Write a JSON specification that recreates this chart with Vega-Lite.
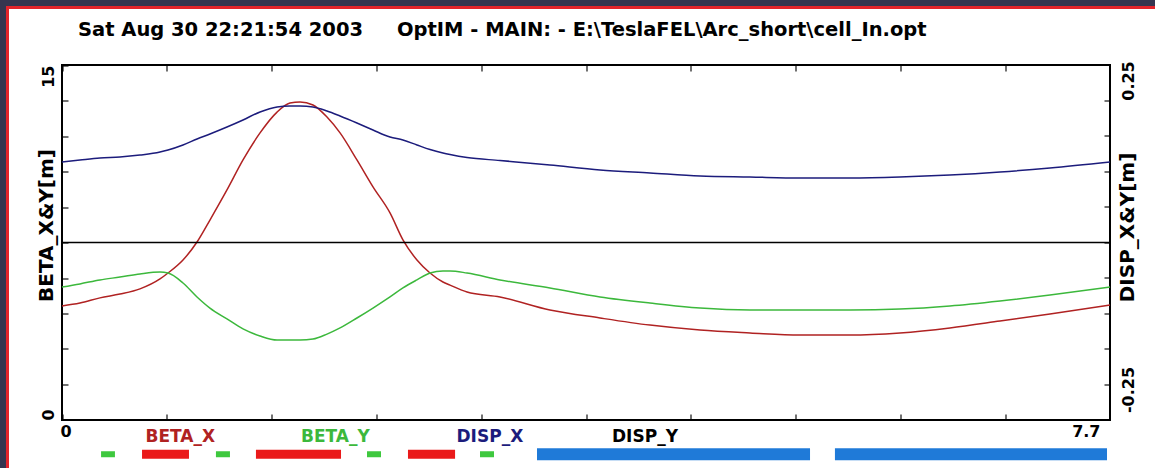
{
  "$schema": "https://vega.github.io/schema/vega-lite/v6.json",
  "width": 1147.5,
  "height": 460.5,
  "autosize": {"type": "none"},
  "padding": {"left": 7.5, "top": 7.5, "right": 0, "bottom": 0},
  "background": "#35354f",
  "title": {
    "text": "Sat Aug 30 22:21:54 2003\u00a0\u00a0\u00a0\u00a0 OptIM - MAIN: - E:\\TeslaFEL\\Arc_short\\cell_In.opt",
    "anchor": "start", "frame": "group", "dx": 70.5, "offset": -47.5,
    "baseline": "alphabetic", "font": "DejaVu Sans", "fontSize": 19.5, "fontWeight": "bold", "color": "black"
  },
  "config": {
    "font": "DejaVu Sans",
    "view": {"fill": "white", "stroke": "#e3242b", "strokeWidth": 3, "strokeDash": [1147.5, 1608, 462, 0]},
    "axis": {
      "domain": false, "grid": false, "tickColor": "#111111", "tickWidth": 1.2, "tickSize": -6,
      "labelFont": "DejaVu Sans", "labelFontSize": 16, "labelFontWeight": "bold", "labelColor": "black",
      "labelOverlap": false, "titleFont": "DejaVu Sans", "titleFontSize": 20, "titleFontWeight": "bold",
      "titleColor": "black", "zindex": 1
    }
  },
  "data": {"values": [
    {"s": 0, "BETA_X": 4.82, "BETA_Y": 5.62, "DISP_X": 0.1417, "DISP_Y": 0},
    {"s": 0.132, "BETA_X": 4.94, "BETA_Y": 5.75, "DISP_X": 0.1452, "DISP_Y": 0},
    {"s": 0.279, "BETA_X": 5.16, "BETA_Y": 5.92, "DISP_X": 0.1488, "DISP_Y": 0},
    {"s": 0.426, "BETA_X": 5.32, "BETA_Y": 6.04, "DISP_X": 0.1505, "DISP_Y": 0},
    {"s": 0.573, "BETA_X": 5.54, "BETA_Y": 6.17, "DISP_X": 0.154, "DISP_Y": 0},
    {"s": 0.72, "BETA_X": 5.96, "BETA_Y": 6.25, "DISP_X": 0.1593, "DISP_Y": 0},
    {"s": 0.779, "BETA_X": 6.21, "BETA_Y": 6.21, "DISP_X": 0.1629, "DISP_Y": 0},
    {"s": 0.889, "BETA_X": 6.76, "BETA_Y": 5.79, "DISP_X": 0.1717, "DISP_Y": 0},
    {"s": 0.992, "BETA_X": 7.52, "BETA_Y": 5.2, "DISP_X": 0.1822, "DISP_Y": 0},
    {"s": 1.087, "BETA_X": 8.45, "BETA_Y": 4.73, "DISP_X": 0.191, "DISP_Y": 0},
    {"s": 1.212, "BETA_X": 9.72, "BETA_Y": 4.27, "DISP_X": 0.2033, "DISP_Y": 0},
    {"s": 1.33, "BETA_X": 10.99, "BETA_Y": 3.85, "DISP_X": 0.2157, "DISP_Y": 0},
    {"s": 1.455, "BETA_X": 12.13, "BETA_Y": 3.55, "DISP_X": 0.2298, "DISP_Y": 0},
    {"s": 1.58, "BETA_X": 13.01, "BETA_Y": 3.38, "DISP_X": 0.2386, "DISP_Y": 0},
    {"s": 1.675, "BETA_X": 13.39, "BETA_Y": 3.38, "DISP_X": 0.2403, "DISP_Y": 0},
    {"s": 1.749, "BETA_X": 13.44, "BETA_Y": 3.38, "DISP_X": 0.2403, "DISP_Y": 0},
    {"s": 1.844, "BETA_X": 13.31, "BETA_Y": 3.42, "DISP_X": 0.2386, "DISP_Y": 0},
    {"s": 1.947, "BETA_X": 12.8, "BETA_Y": 3.63, "DISP_X": 0.2315, "DISP_Y": 0},
    {"s": 2.043, "BETA_X": 12.13, "BETA_Y": 3.89, "DISP_X": 0.2227, "DISP_Y": 0},
    {"s": 2.167, "BETA_X": 10.99, "BETA_Y": 4.31, "DISP_X": 0.2104, "DISP_Y": 0},
    {"s": 2.285, "BETA_X": 9.85, "BETA_Y": 4.73, "DISP_X": 0.1981, "DISP_Y": 0},
    {"s": 2.41, "BETA_X": 8.75, "BETA_Y": 5.2, "DISP_X": 0.1857, "DISP_Y": 0},
    {"s": 2.505, "BETA_X": 7.61, "BETA_Y": 5.58, "DISP_X": 0.1805, "DISP_Y": 0},
    {"s": 2.608, "BETA_X": 6.76, "BETA_Y": 5.92, "DISP_X": 0.1717, "DISP_Y": 0},
    {"s": 2.704, "BETA_X": 6.21, "BETA_Y": 6.21, "DISP_X": 0.1637, "DISP_Y": 0},
    {"s": 2.799, "BETA_X": 5.83, "BETA_Y": 6.3, "DISP_X": 0.1576, "DISP_Y": 0},
    {"s": 2.851, "BETA_X": 5.7, "BETA_Y": 6.3, "DISP_X": 0.1549, "DISP_Y": 0},
    {"s": 2.976, "BETA_X": 5.41, "BETA_Y": 6.21, "DISP_X": 0.1496, "DISP_Y": 0},
    {"s": 3.218, "BETA_X": 5.2, "BETA_Y": 5.92, "DISP_X": 0.1444, "DISP_Y": 0},
    {"s": 3.585, "BETA_X": 4.65, "BETA_Y": 5.58, "DISP_X": 0.1364, "DISP_Y": 0},
    {"s": 3.953, "BETA_X": 4.31, "BETA_Y": 5.2, "DISP_X": 0.1276, "DISP_Y": 0},
    {"s": 4.32, "BETA_X": 4.01, "BETA_Y": 4.94, "DISP_X": 0.1224, "DISP_Y": 0},
    {"s": 4.688, "BETA_X": 3.8, "BETA_Y": 4.73, "DISP_X": 0.1171, "DISP_Y": 0},
    {"s": 5.055, "BETA_X": 3.68, "BETA_Y": 4.65, "DISP_X": 0.1153, "DISP_Y": 0},
    {"s": 5.422, "BETA_X": 3.59, "BETA_Y": 4.65, "DISP_X": 0.1136, "DISP_Y": 0},
    {"s": 5.79, "BETA_X": 3.59, "BETA_Y": 4.65, "DISP_X": 0.1136, "DISP_Y": 0},
    {"s": 6.157, "BETA_X": 3.68, "BETA_Y": 4.69, "DISP_X": 0.1153, "DISP_Y": 0},
    {"s": 6.524, "BETA_X": 3.89, "BETA_Y": 4.82, "DISP_X": 0.1188, "DISP_Y": 0},
    {"s": 6.892, "BETA_X": 4.18, "BETA_Y": 5.03, "DISP_X": 0.1241, "DISP_Y": 0},
    {"s": 7.259, "BETA_X": 4.48, "BETA_Y": 5.28, "DISP_X": 0.1312, "DISP_Y": 0},
    {"s": 7.7, "BETA_X": 4.86, "BETA_Y": 5.62, "DISP_X": 0.1417, "DISP_Y": 0}
  ]},
  "resolve": {"scale": {"y": "independent"}, "axis": {"x": "independent", "y": "independent"}},
  "layer": [
    {
      "data": {"values": [{}]},
      "mark": {"type": "rect", "filled": false, "color": "black", "strokeWidth": 2},
      "encoding": {
        "x": {"datum": 0, "type": "quantitative", "scale": {"domain": [-0.40043, 8.03063], "nice": false, "zero": false},
              "axis": {"orient": "top", "offset": -57.5, "values": [0, 0.77, 1.54, 2.31, 3.08, 3.85, 4.62, 5.39, 6.16, 6.93, 7.7], "labels": false, "title": null}},
        "x2": {"datum": 7.7},
        "y": {"datum": 0, "type": "quantitative", "scale": {"domain": [-2.02817, 17.42958], "nice": false, "zero": false}, "axis": null},
        "y2": {"datum": 15}
      }
    },
    {
      "transform": [{"fold": ["BETA_X", "BETA_Y"], "as": ["series", "v"]}],
      "mark": {"type": "line", "strokeWidth": 1.5, "interpolate": "monotone"},
      "encoding": {
        "x": {"field": "s", "type": "quantitative", "scale": {"domain": [-0.40043, 8.03063], "nice": false, "zero": false},
              "axis": {"orient": "bottom", "offset": -48, "values": [0, 0.77, 1.54, 2.31, 3.08, 3.85, 4.62, 5.39, 6.16, 6.93, 7.7],
                       "labelExpr": "datum.value == 0 ? '0' : (datum.value > 7.6 ? '7.7' : '')",
                       "labelAlign": {"condition": {"test": "datum.value == 0", "value": "left"}, "value": "right"},
                       "labelOffset": {"condition": {"test": "datum.value == 0", "value": -2}, "value": -10},
                       "labelBaseline": "alphabetic", "labelPadding": 22, "title": null}},
        "y": {"field": "v", "type": "quantitative", "scale": {"domain": [-2.02817, 17.42958], "nice": false, "zero": false},
              "axis": {"orient": "left", "offset": -54.5, "values": [0, 1.5, 3, 4.5, 6, 7.5, 9, 10.5, 12, 13.5, 15],
                       "labelExpr": "datum.value == 0 || datum.value == 15 ? datum.label : ''",
                       "labelAngle": 270,
                       "labelAlign": {"condition": {"test": "datum.value == 0", "value": "left"}, "value": "right"},
                       "labelBaseline": "alphabetic", "labelPadding": 15,
                       "title": "BETA_X&Y[m]", "titleAngle": 270, "titleX": -15.5, "titleY": 217.5,
                       "titleAlign": "center", "titleBaseline": "middle"}},
        "color": {"field": "series", "type": "nominal",
                  "scale": {"domain": ["BETA_X", "BETA_Y", "DISP_X", "DISP_Y"], "range": ["#b02222", "#3cb83c", "#1c1c7c", "#000000"]},
                  "legend": {"orient": "none", "legendX": 121, "legendY": 421, "direction": "horizontal", "columns": 4,
                             "columnPadding": 68.5, "gridAlign": "all", "labelOffset": 0, "symbolSize": 0, "symbolStrokeWidth": 0,
                             "symbolOpacity": 0, "padding": 0, "title": null, "labelFont": "DejaVu Sans", "labelFontSize": 17,
                             "labelFontWeight": "bold",
                             "encode": {"labels": {"update": {"fill": {"scale": "color", "field": "value"}}}}}}
      }
    },
    {
      "data": {"values": [
        {"type": "quad", "s0": 0.287, "s1": 0.389},
        {"type": "bend", "s0": 0.588, "s1": 0.933},
        {"type": "quad", "s0": 1.131, "s1": 1.234},
        {"type": "bend", "s0": 1.425, "s1": 2.05},
        {"type": "quad", "s0": 2.241, "s1": 2.344},
        {"type": "bend", "s0": 2.542, "s1": 2.888},
        {"type": "quad", "s0": 3.071, "s1": 3.174},
        {"type": "long", "s0": 3.49, "s1": 5.496},
        {"type": "long", "s0": 5.679, "s1": 7.678}
      ]},
      "mark": {"type": "bar"},
      "encoding": {
        "x": {"field": "s0", "type": "quantitative", "scale": {"domain": [-0.40043, 8.03063], "nice": false, "zero": false}, "axis": null},
        "x2": {"field": "s1"},
        "y": {"datum": -1.65, "type": "quantitative", "scale": {"domain": [-2.02817, 17.42958], "nice": false, "zero": false}, "axis": null},
        "fill": {"field": "type", "type": "nominal", "scale": {"domain": ["quad", "bend", "long"], "range": ["#3ec83e", "#ea1a1a", "#1f7ad8"]}, "legend": null},
        "size": {"field": "type", "type": "nominal", "scale": {"domain": ["quad", "bend", "long"], "range": [6, 12, 6]}, "legend": null}
      }
    },
    {
      "transform": [{"fold": ["DISP_X", "DISP_Y"], "as": ["series", "v"]}],
      "mark": {"type": "line", "strokeWidth": 1.5, "interpolate": "monotone"},
      "encoding": {
        "x": {"field": "s", "type": "quantitative", "scale": {"domain": [-0.40043, 8.03063], "nice": false, "zero": false}, "axis": null},
        "y": {"field": "v", "type": "quantitative", "scale": {"domain": [-0.39701, 0.41373], "nice": false, "zero": false},
              "axis": {"orient": "right", "offset": -45, "values": [-0.3125, -0.25, -0.1875, -0.125, -0.0625, 0, 0.0625, 0.125, 0.1875, 0.25, 0.3125],
                       "labelExpr": "datum.value == 0.25 ? '0.25' : (datum.value == -0.25 ? '-0.25' : '')",
                       "labelAngle": 270, "labelAlign": "center",
                       "labelOffset": {"condition": {"test": "datum.value > 0", "value": -20}, "value": 5},
                       "labelBaseline": "alphabetic", "labelPadding": 29,
                       "title": "DISP_X&Y[m]", "titleAngle": 270, "titleX": 17.5, "titleY": 219.5,
                       "titleAlign": "center", "titleBaseline": "middle"}},
        "color": {"field": "series", "type": "nominal",
                  "scale": {"domain": ["BETA_X", "BETA_Y", "DISP_X", "DISP_Y"], "range": ["#b02222", "#3cb83c", "#1c1c7c", "#000000"]},
                  "legend": {"orient": "none", "legendX": 121, "legendY": 421, "direction": "horizontal", "columns": 4,
                             "columnPadding": 68.5, "gridAlign": "all", "labelOffset": 0, "symbolSize": 0, "symbolStrokeWidth": 0,
                             "symbolOpacity": 0, "padding": 0, "title": null, "labelFont": "DejaVu Sans", "labelFontSize": 17,
                             "labelFontWeight": "bold",
                             "encode": {"labels": {"update": {"fill": {"scale": "color", "field": "value"}}}}}}
      }
    }
  ]
}
